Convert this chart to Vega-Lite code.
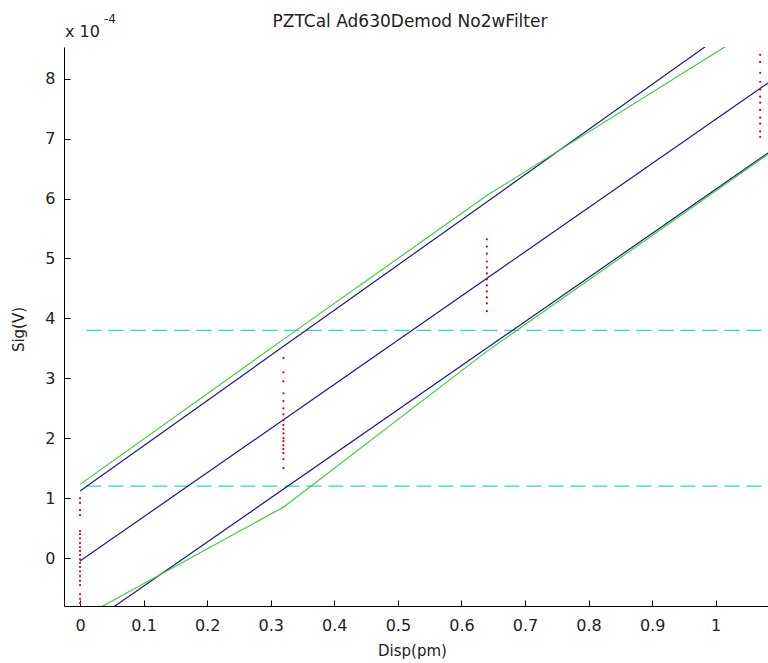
{
  "$schema": "https://vega.github.io/schema/vega-lite/v6.json",
  "width": 704,
  "height": 559,
  "autosize": {"type": "none"},
  "padding": {"left": 64, "top": 47, "right": 0, "bottom": 57},
  "background": "white",
  "config": {
    "view": {"stroke": null},
    "font": "DejaVu Sans",
    "axis": {
      "domainColor": "#000000",
      "domainWidth": 1,
      "tickColor": "#000000",
      "tickSize": -6,
      "tickWidth": 1,
      "grid": false,
      "labelFont": "DejaVu Sans",
      "labelFontSize": 16,
      "labelColor": "#222222",
      "titleFont": "DejaVu Sans",
      "titleFontSize": 15,
      "titleFontWeight": "normal",
      "titleColor": "#222222"
    }
  },
  "title": {
    "text": "PZTCal Ad630Demod No2wFilter",
    "font": "DejaVu Sans",
    "fontSize": 17,
    "fontWeight": "normal",
    "color": "#222222",
    "anchor": "middle",
    "dx": -6,
    "offset": -18
  },
  "datasets": {
    "lines": [
      {"series": "fit_mid", "kind": "fit", "x": 0, "y": -0.05},
      {"series": "fit_mid", "kind": "fit", "x": 1.0823, "y": 7.93},
      {"series": "fit_hi", "kind": "fit", "x": 0, "y": 1.12},
      {"series": "fit_hi", "kind": "fit", "x": 1.0823, "y": 9.28},
      {"series": "fit_lo", "kind": "fit", "x": 0, "y": -1.205},
      {"series": "fit_lo", "kind": "fit", "x": 1.0823, "y": 6.76},
      {"series": "env_hi", "kind": "env", "x": 0, "y": 1.23},
      {"series": "env_hi", "kind": "env", "x": 0.32, "y": 3.65},
      {"series": "env_hi", "kind": "env", "x": 0.64, "y": 6.05},
      {"series": "env_hi", "kind": "env", "x": 1.07, "y": 8.9},
      {"series": "env_lo", "kind": "env", "x": 0, "y": -1.01},
      {"series": "env_lo", "kind": "env", "x": 0.32, "y": 0.85},
      {"series": "env_lo", "kind": "env", "x": 0.64, "y": 3.45},
      {"series": "env_lo", "kind": "env", "x": 1.0823, "y": 6.74}
    ],
    "thresholds": [
      {"series": "thr_hi", "x": 0.01, "y": 3.8},
      {"series": "thr_hi", "x": 1.0823, "y": 3.8},
      {"series": "thr_lo", "x": 0.01, "y": 1.2},
      {"series": "thr_lo", "x": 1.0823, "y": 1.2}
    ],
    "dots": [
      {"x": 0, "y": 1.0}, {"x": 0, "y": 0.92}, {"x": 0, "y": 0.8}, {"x": 0, "y": 0.72},
      {"x": 0, "y": 0.45}, {"x": 0, "y": 0.4}, {"x": 0, "y": 0.33}, {"x": 0, "y": 0.25},
      {"x": 0, "y": 0.18}, {"x": 0, "y": 0.12}, {"x": 0, "y": 0.05}, {"x": 0, "y": -0.02},
      {"x": 0, "y": -0.08}, {"x": 0, "y": -0.15}, {"x": 0, "y": -0.22}, {"x": 0, "y": -0.3},
      {"x": 0, "y": -0.38}, {"x": 0, "y": -0.45}, {"x": 0, "y": -0.6}, {"x": 0, "y": -0.68},
      {"x": 0, "y": -0.75},
      {"x": 0.32, "y": 3.34}, {"x": 0.32, "y": 3.1}, {"x": 0.32, "y": 2.95}, {"x": 0.32, "y": 2.75},
      {"x": 0.32, "y": 2.62}, {"x": 0.32, "y": 2.5}, {"x": 0.32, "y": 2.4}, {"x": 0.32, "y": 2.3},
      {"x": 0.32, "y": 2.22}, {"x": 0.32, "y": 2.15}, {"x": 0.32, "y": 2.08}, {"x": 0.32, "y": 2.0},
      {"x": 0.32, "y": 1.95}, {"x": 0.32, "y": 1.88}, {"x": 0.32, "y": 1.82}, {"x": 0.32, "y": 1.75},
      {"x": 0.32, "y": 1.65}, {"x": 0.32, "y": 1.5},
      {"x": 0.64, "y": 5.32}, {"x": 0.64, "y": 5.2}, {"x": 0.64, "y": 5.08}, {"x": 0.64, "y": 4.95},
      {"x": 0.64, "y": 4.85}, {"x": 0.64, "y": 4.75}, {"x": 0.64, "y": 4.65}, {"x": 0.64, "y": 4.55},
      {"x": 0.64, "y": 4.45}, {"x": 0.64, "y": 4.35}, {"x": 0.64, "y": 4.25}, {"x": 0.64, "y": 4.12},
      {"x": 1.07, "y": 8.4}, {"x": 1.07, "y": 8.28}, {"x": 1.07, "y": 8.1}, {"x": 1.07, "y": 7.95},
      {"x": 1.07, "y": 7.82}, {"x": 1.07, "y": 7.7}, {"x": 1.07, "y": 7.6}, {"x": 1.07, "y": 7.48},
      {"x": 1.07, "y": 7.35}, {"x": 1.07, "y": 7.25}, {"x": 1.07, "y": 7.12}, {"x": 1.07, "y": 7.03}
    ]
  },
  "layer": [
    {
      "data": {"name": "thresholds"},
      "mark": {"type": "line", "clip": true, "color": "#2dd4d4", "strokeWidth": 1.3, "strokeDash": [15, 7]},
      "encoding": {
        "x": {
          "field": "x", "type": "quantitative",
          "scale": {"domain": [-0.0252, 1.0823], "nice": false, "zero": false},
          "axis": {
            "values": [0, 0.1, 0.2, 0.3, 0.4, 0.5, 0.6, 0.7, 0.8, 0.9, 1],
            "format": "~g",
            "labelPadding": 17,
            "title": "Disp(pm)",
            "titleX": 348,
            "titleY": 37,
            "titleBaseline": "top"
          }
        },
        "y": {
          "field": "y", "type": "quantitative",
          "scale": {"domain": [-0.8, 8.53], "nice": false, "zero": false},
          "axis": {
            "values": [0, 1, 2, 3, 4, 5, 6, 7, 8],
            "format": "d",
            "labelPadding": 15,
            "title": "Sig(V)",
            "titleX": -38,
            "titleY": 282,
            "titleAngle": -90,
            "titleBaseline": "bottom"
          }
        },
        "detail": {"field": "series"}
      }
    },
    {
      "data": {"name": "lines"},
      "mark": {"type": "line", "clip": true, "strokeWidth": 1.2},
      "encoding": {
        "x": {"field": "x", "type": "quantitative"},
        "y": {"field": "y", "type": "quantitative"},
        "detail": {"field": "series"},
        "color": {
          "field": "kind", "type": "nominal",
          "scale": {"domain": ["fit", "env"], "range": ["#1c1c80", "#3ccf3c"]},
          "legend": null
        },
        "order": {"field": "x", "type": "quantitative"}
      }
    },
    {
      "data": {"name": "dots"},
      "mark": {"type": "point", "shape": "circle", "filled": true, "size": 5, "color": "#c01010", "opacity": 1, "clip": true},
      "encoding": {
        "x": {"field": "x", "type": "quantitative"},
        "y": {"field": "y", "type": "quantitative"}
      }
    },
    {
      "data": {"values": [{"t": "x 10"}]},
      "mark": {"type": "text", "align": "left", "baseline": "alphabetic", "fontSize": 16, "color": "#222222", "dx": 1, "dy": -10},
      "encoding": {
        "x": {"datum": -0.0252, "type": "quantitative"},
        "y": {"datum": 8.53, "type": "quantitative"},
        "text": {"field": "t"}
      }
    },
    {
      "data": {"values": [{"t": "-4"}]},
      "mark": {"type": "text", "align": "left", "baseline": "alphabetic", "fontSize": 12, "color": "#222222", "dx": 40, "dy": -24},
      "encoding": {
        "x": {"datum": -0.0252, "type": "quantitative"},
        "y": {"datum": 8.53, "type": "quantitative"},
        "text": {"field": "t"}
      }
    }
  ]
}
